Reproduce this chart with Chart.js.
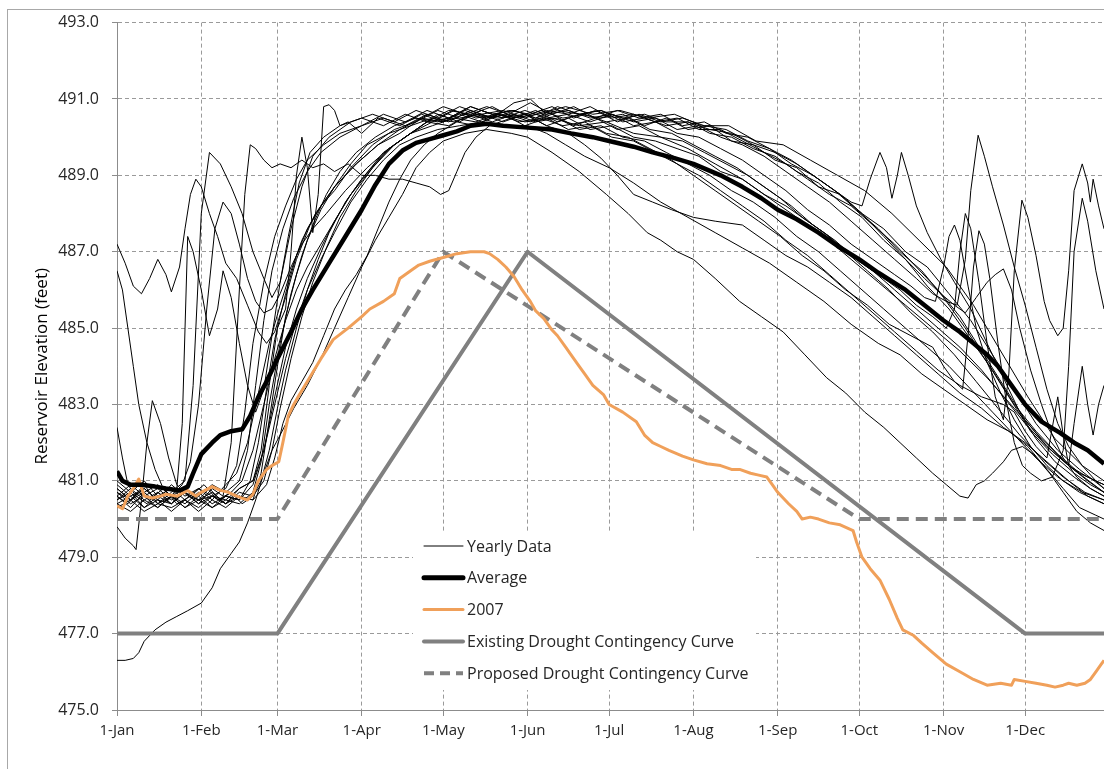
<!DOCTYPE html>
<html>
<head>
<meta charset="utf-8">
<script src="https://cdn.jsdelivr.net/npm/chart.js@4.4.1/dist/chart.umd.min.js"></script>
<style>
  html, body { margin: 0; padding: 0; background: #fff; overflow: hidden; }
  #wrap { position: relative; width: 1104px; height: 769px; }
  #frame { position: absolute; left: 7px; top: 9px; width: 1120px; height: 800px;
           border-top: 1px solid #a8a8a8; border-left: 1px solid #a8a8a8; pointer-events: none; }
</style>
</head>
<body>
<div id="wrap">
  <canvas id="grafico" width="1104" height="769"></canvas>
  <div id="frame"></div>
</div>
<script>
// eixo x: dia do ano (1-Jan = 0)
const monthDays = [0, 31, 59, 90, 120, 151, 181, 212, 243, 273, 304, 334];
const monthLabels = ['1-Jan','1-Feb','1-Mar','1-Apr','1-May','1-Jun','1-Jul','1-Aug','1-Sep','1-Oct','1-Nov','1-Dec'];

// curvas de contingencia
const existingDays = [0, 59, 151, 334, 363];
const existingVals = [477, 477, 487, 477, 477];
const proposedDays = [0, 59, 120, 273, 363];
const proposedVals = [480, 480, 487, 480, 480];

// media de todos os anos
const averageData = [[0,481.25],[2,481.0],[5,480.9],[9,480.9],[14,480.85],[18,480.8],[23,480.75],[26,480.85],[28,481.2],[31,481.7],[35,482.0],[38,482.2],[42,482.3],[46,482.35],[49,482.7],[52,483.2],[55,483.6],[59,484.2],[64,484.9],[68,485.5],[72,486.0],[78,486.7],[84,487.4],[90,488.1],[95,488.75],[100,489.3],[105,489.65],[110,489.85],[115,489.95],[120,490.05],[125,490.15],[130,490.3],[136,490.35],[142,490.3],[151,490.25],[160,490.2],[167,490.1],[175,490.0],[181,489.9],[190,489.75],[197,489.6],[205,489.45],[212,489.3],[222,489.0],[230,488.7],[237,488.4],[243,488.1],[250,487.85],[258,487.5],[265,487.15],[273,486.8],[280,486.45],[290,486.0],[297,485.6],[304,485.2],[310,484.9],[315,484.6],[320,484.3],[324,484.0],[328,483.6],[334,483.0],[340,482.55],[347,482.25],[352,482.0],[357,481.8],[363,481.45]];

// ano de 2007
const data2007 = [[0,480.35],[2,480.27],[4,480.6],[6,480.8],[8,481.05],[10,480.6],[13,480.55],[16,480.6],[18,480.65],[22,480.6],[26,480.75],[29,480.6],[31,480.7],[35,480.85],[38,480.75],[41,480.7],[44,480.6],[46,480.55],[48,480.5],[50,480.65],[52,481.0],[55,481.3],[57,481.4],[59.5,481.5],[61,482.0],[63,482.7],[65,483.0],[67,483.25],[70,483.6],[75,484.2],[79.5,484.7],[85,485.0],[90,485.3],[93,485.5],[98,485.7],[102,485.9],[104,486.3],[108,486.5],[111,486.65],[115,486.75],[120,486.85],[125,486.95],[130,487.0],[135,487.0],[137,486.95],[140,486.8],[143,486.6],[146,486.35],[149,486.0],[152,485.7],[154,485.45],[157,485.25],[160,484.95],[162,484.8],[165,484.5],[167,484.3],[170,484.0],[172,483.8],[175,483.5],[179,483.25],[181,483.0],[186,482.8],[191,482.55],[194,482.2],[197,482.0],[200,481.9],[203,481.8],[208,481.65],[212,481.55],[217,481.45],[222,481.4],[226,481.3],[229,481.3],[233,481.2],[236,481.15],[239,481.1],[241,480.9],[243,480.7],[247,480.4],[250,480.2],[252,480.0],[255,480.05],[258,480.0],[262,479.9],[266,479.85],[270.7,479.7],[272,479.4],[274,479.0],[277,478.7],[280.6,478.4],[284,477.9],[287,477.4],[289,477.1],[293,476.95],[296,476.75],[300,476.5],[305,476.2],[310,476.0],[315,475.8],[320,475.65],[325,475.7],[329,475.65],[330,475.8],[334,475.75],[338,475.7],[342,475.65],[345,475.6],[348,475.65],[350,475.7],[353,475.65],[356,475.7],[358,475.8],[360,476.0],[362,476.2],[363,476.3]];

// dados anuais (uma linha fina por ano)
const yr01 = [[0,480.6],[4,480.4],[8,480.7],[12,480.5],[17,480.8],[22,480.4],[27,480.6],[32,480.9],[37,480.5],[42,480.7],[46,481.0],[50,481.8],[54,483.0],[58,484.2],[62,485.2],[66,486.0],[70,486.6],[75,487.2],[80,487.8],[85,488.4],[90,488.9],[96,489.4],[102,489.8],[108,490.1],[114,490.4],[122,490.5],[130,490.8],[138,490.6],[146,490.7],[154,490.5],[162,490.7],[170,490.6],[178,490.7],[186,490.4],[194,490.5],[202,490.3],[210,490.4],[218,490.1],[226,490.0],[234,489.7],[242,489.5],[250,489.1],[258,488.8],[266,488.3],[274,487.9],[282,487.3],[290,486.8],[298,486.1],[306,485.5],[314,484.7],[322,483.9],[330,483.0],[338,482.3],[346,481.7],[354,481.2],[363,480.9]];
const yr02 = [[0,480.8],[5,480.5],[10,480.9],[15,480.4],[20,480.7],[25,481.0],[28,483.5],[31,488.0],[34,489.6],[38,489.3],[42,488.7],[46,488.0],[50,487.0],[54,486.3],[57,485.8],[60,486.2],[63,487.4],[67,488.8],[71,489.6],[76,490.0],[82,490.3],[90,490.5],[98,490.3],[106,490.6],[114,490.4],[122,490.7],[130,490.6],[138,490.8],[146,490.5],[154,490.7],[162,490.4],[170,490.6],[178,490.5],[186,490.6],[194,490.3],[202,490.5],[210,490.2],[218,490.3],[226,489.9],[234,489.8],[242,489.4],[250,489.2],[258,488.7],[266,488.5],[274,488.0],[282,487.6],[290,487.0],[298,486.6],[306,485.9],[314,485.2],[322,484.3],[330,483.4],[338,482.5],[346,481.8],[354,481.3],[363,480.8]];
const yr03 = [[0,487.2],[3,486.7],[6,486.1],[9,485.9],[12,486.3],[15,486.8],[18,486.4],[20,485.95],[23,486.6],[25,487.6],[27,488.5],[29,488.9],[31,488.7],[34,488.0],[37,487.4],[40,486.7],[44,486.3],[48,485.6],[52,484.9],[55,484.6],[58,484.9],[62,485.8],[66,486.8],[71,487.7],[75,488.2],[80,488.6],[86,489.2],[94,489.8],[102,490.2],[110,490.4],[118,490.7],[126,490.5],[134,490.6],[142,490.4],[150,490.6],[158,490.3],[166,490.5],[174,490.2],[182,490.3],[190,490.0],[198,489.9],[206,489.7],[214,489.5],[222,489.1],[230,488.9],[238,488.5],[246,488.2],[254,487.8],[262,487.4],[270,486.9],[278,486.5],[286,486.0],[294,485.5],[302,485.0],[310,484.5],[318,483.9],[326,483.2],[334,482.5],[342,481.9],[350,481.4],[357,481.1],[363,480.9]];
const yr04 = [[0,486.5],[2,486.0],[4,485.0],[6,484.0],[8,483.0],[11,482.0],[14,481.3],[17,480.8],[20,480.6],[24,480.9],[27,481.5],[30,483.0],[33,485.5],[36,487.6],[39,488.3],[42,488.0],[45,487.2],[48,486.3],[51,485.7],[54,485.4],[57,485.5],[60,485.9],[64,486.6],[68,487.2],[72,487.6],[77,488.0],[84,488.6],[92,489.2],[100,489.7],[108,490.1],[116,490.4],[124,490.7],[132,490.5],[140,490.6],[150,490.4],[160,490.5],[170,490.3],[180,490.4],[190,490.1],[200,490.0],[210,489.7],[220,489.3],[230,488.9],[240,488.4],[250,487.9],[260,487.4],[270,486.8],[280,486.2],[290,485.6],[300,485.0],[310,484.4],[320,483.7],[330,482.9],[340,482.1],[350,481.4],[363,480.7]];
const yr05 = [[0,480.5],[5,480.7],[10,480.3],[15,480.6],[20,480.4],[25,480.7],[30,480.4],[35,480.8],[39,480.6],[42,482.0],[45,486.0],[47,488.5],[49,489.8],[51,489.7],[54,489.4],[57,489.2],[60,489.3],[64,489.2],[68,489.4],[72,489.2],[76,489.3],[80,489.1],[85,489.3],[90,489.0],[95,489.0],[100,488.9],[105,488.9],[110,488.8],[115,488.7],[119,488.5],[122,488.6],[125,489.1],[128,489.6],[132,490.0],[137,490.3],[145,490.5],[155,490.6],[165,490.8],[175,490.6],[185,490.7],[195,490.5],[205,490.6],[215,490.3],[225,490.3],[235,489.9],[245,489.8],[255,489.4],[265,489.0],[275,488.6],[285,488.0],[295,487.3],[305,486.6],[315,485.6],[325,484.4],[335,483.2],[345,482.1],[355,481.4],[363,481.0]];
const yr06 = [[0,476.3],[3,476.3],[6,476.35],[8,476.5],[10,476.8],[14,477.1],[18,477.3],[22,477.45],[26,477.6],[31,477.8],[35,478.2],[38,478.7],[42,479.1],[45,479.4],[48,479.9],[51,480.5],[54,481.2],[57,481.8],[60,482.2],[65,482.9],[70,483.5],[75,484.2],[80,485.0],[85,485.8],[90,486.6],[95,487.3],[100,487.9],[105,488.5],[110,489.2],[115,489.6],[120,489.9],[128,490.1],[136,490.2],[145,490.1],[151,490.0],[160,489.6],[170,489.1],[180,488.5],[188,488.0],[195,487.5],[200,487.3],[206,487.0],[212,486.8],[220,486.3],[229,485.7],[237,485.3],[245,484.9],[253,484.3],[261,483.7],[268,483.3],[275,482.8],[282,482.4],[288,482.0],[294,481.6],[300,481.2],[305,480.9],[310,480.6],[313,480.55],[316,480.9],[319,481.0],[322,481.2],[326,481.5],[329,481.8],[333,481.9],[337,481.7],[343,481.2],[348,480.7],[353,480.2],[358,479.9],[363,479.7]];
const yr07 = [[0,480.4],[5,480.2],[10,480.5],[15,480.3],[20,480.6],[25,480.3],[30,480.5],[35,480.3],[40,480.6],[45,480.5],[50,480.9],[54,481.8],[58,483.0],[62,484.2],[66,485.2],[70,486.0],[75,486.8],[80,487.5],[86,488.3],[92,488.9],[98,489.4],[104,489.8],[110,490.0],[118,490.2],[126,490.3],[134,490.4],[142,490.3],[151,490.3],[158,490.1],[165,489.8],[172,489.5],[181,489.2],[190,488.8],[200,488.3],[210,487.9],[220,487.5],[230,487.1],[240,486.7],[250,486.2],[260,485.7],[270,485.1],[280,484.6],[288,484.3],[296,483.8],[304,483.4],[312,483.0],[320,482.6],[328,482.3],[335,481.9],[342,481.3],[348,480.8],[354,480.3],[360,480.1],[363,480.0]];
const yr08 = [[0,480.7],[5,480.5],[10,480.8],[15,480.5],[20,480.4],[25,480.7],[30,480.5],[35,480.7],[40,480.4],[45,480.6],[50,480.5],[53,481.2],[56,482.6],[59,484.0],[62,485.3],[66,486.4],[70,487.3],[75,488.1],[80,488.7],[86,489.3],[92,489.8],[100,490.1],[108,490.3],[116,490.5],[124,490.4],[132,490.6],[140,490.5],[150,490.6],[158,490.3],[166,490.1],[172,489.8],[178,489.45],[184,489.0],[190,488.5],[197,488.3],[204,488.1],[212,487.9],[220,487.8],[230,487.7],[238,487.3],[246,486.9],[254,486.6],[262,486.2],[270,485.8],[278,485.3],[286,484.8],[294,484.3],[302,483.8],[310,483.3],[318,482.9],[326,482.4],[334,482.0],[342,481.5],[350,481.0],[357,480.6],[363,480.4]];
const yr09 = [[0,480.3],[5,480.5],[10,480.2],[15,480.4],[20,480.3],[25,480.5],[30,480.2],[35,480.5],[40,480.3],[45,480.6],[50,480.5],[55,480.9],[58,481.6],[61,482.5],[64,483.1],[68,483.6],[72,484.1],[76,484.8],[80,485.5],[84,486.0],[88,486.4],[92,486.9],[96,487.6],[100,488.3],[104,488.9],[108,489.4],[113,489.8],[118,490.1],[125,490.4],[132,490.3],[140,490.6],[148,490.5],[156,490.7],[164,490.5],[172,490.6],[180,490.4],[188,490.5],[196,490.2],[204,490.1],[212,489.8],[220,489.5],[228,489.2],[236,488.8],[244,488.4],[252,487.9],[260,487.5],[268,487.0],[276,486.5],[284,486.0],[292,485.4],[300,484.9],[308,484.3],[316,483.6],[324,482.9],[332,482.2],[340,481.6],[348,481.1],[356,480.7],[363,480.5]];
const yr10 = [[0,480.9],[5,480.6],[10,480.8],[15,480.5],[20,480.9],[25,480.6],[30,480.8],[35,480.5],[40,480.9],[44,481.2],[48,482.0],[52,483.3],[56,484.6],[60,485.6],[64,486.5],[68,487.3],[73,488.0],[80,488.7],[88,489.3],[96,489.8],[104,490.2],[112,490.5],[120,490.8],[128,490.6],[136,490.8],[144,490.6],[152,490.9],[160,490.6],[168,490.8],[176,490.5],[184,490.7],[192,490.5],[200,490.6],[208,490.3],[216,490.4],[224,490.1],[232,490.0],[240,489.7],[248,489.4],[256,489.0],[264,488.6],[270,488.3],[274,488.2],[277,488.9],[280.6,489.6],[283,489.2],[285,488.4],[287,489.0],[288.5,489.6],[291,489.0],[294,488.2],[298,487.5],[303,486.8],[308,486.2],[314,485.5],[320,484.6],[326,483.7],[332,482.8],[338,482.1],[345,481.5],[352,481.1],[358,480.8],[363,480.6]];
const yr11 = [[0,480.5],[5,480.8],[10,480.5],[15,480.7],[20,480.4],[25,480.8],[30,480.5],[35,480.6],[40,480.4],[45,480.8],[50,481.0],[54,481.8],[58,483.2],[62,484.5],[66,485.5],[70,486.3],[75,487.1],[80,487.8],[86,488.5],[94,489.2],[102,489.8],[110,490.2],[118,490.6],[126,490.4],[134,490.7],[142,490.5],[150,490.7],[158,490.5],[166,490.6],[174,490.4],[182,490.6],[190,490.4],[198,490.5],[206,490.2],[214,490.3],[222,490.0],[230,489.8],[238,489.5],[246,489.1],[254,488.7],[262,488.3],[270,487.8],[278,487.3],[286,486.8],[294,486.3],[300,485.9],[305,485.7],[309,485.6],[312,486.8],[314,488.6],[316.7,490.05],[319,489.5],[322,488.7],[326,487.7],[330,486.6],[334,485.6],[338,484.5],[342,483.4],[346,482.5],[350,481.9],[355,481.4],[360,481.0],[363,480.8]];
const yr12 = [[0,480.7],[5,480.4],[10,480.6],[15,480.3],[20,480.6],[25,480.4],[30,480.7],[35,480.4],[40,480.6],[45,480.5],[49,481.0],[52,482.0],[55,483.4],[58,484.7],[62,485.9],[66,486.9],[70,487.6],[75,488.2],[80,488.7],[88,489.3],[96,489.8],[104,490.1],[112,490.5],[120,490.4],[128,490.7],[136,490.5],[144,490.6],[152,490.4],[160,490.6],[168,490.3],[176,490.5],[184,490.2],[192,490.3],[200,490.0],[208,489.9],[216,489.6],[224,489.3],[232,489.0],[240,488.6],[248,488.2],[256,487.7],[264,487.3],[272,486.8],[280,486.4],[288,486.0],[294,485.6],[300,485.3],[305,485.0],[308,485.5],[310,487.0],[312,488.0],[314,487.6],[317,486.2],[320,484.6],[323,483.2],[326,482.6],[328,483.8],[330,486.5],[332.8,488.35],[335,487.9],[338,486.9],[341,485.7],[343,485.2],[346,484.8],[348,485.0],[350,486.5],[352,488.6],[355,489.3],[357,488.8],[358,488.3],[359,488.9],[361,488.2],[363,487.6]];
const yr13 = [[0,480.4],[5,480.6],[10,480.3],[15,480.5],[20,480.2],[25,480.5],[30,480.3],[35,480.6],[40,480.4],[45,480.7],[50,480.6],[54,481.0],[57,481.8],[60,482.9],[64,484.2],[68,485.3],[72,486.2],[77,487.1],[82,487.9],[88,488.6],[94,489.2],[100,489.7],[108,490.1],[116,490.3],[124,490.5],[132,490.4],[140,490.6],[148,490.4],[156,490.5],[164,490.3],[172,490.4],[180,490.1],[188,490.0],[196,489.7],[204,489.4],[212,489.0],[220,488.6],[228,488.2],[236,487.8],[244,487.4],[252,486.9],[260,486.5],[268,486.0],[276,485.6],[284,485.1],[292,484.8],[300,484.5],[304,484.0],[308,483.6],[311,483.4],[313,484.8],[315,486.6],[317,487.55],[319,487.2],[321,486.3],[324,484.6],[327,483.1],[330,482.0],[333,481.4],[336,481.2],[340,481.0],[344,481.1],[348,481.8],[350,484.0],[352,487.0],[355,488.4],[357,487.8],[360,486.5],[363,485.5]];
const yr14 = [[0,481.0],[5,480.7],[10,481.0],[15,480.6],[20,480.8],[25,480.5],[30,480.8],[35,480.6],[40,480.8],[44,481.4],[47,482.8],[50,484.6],[54,486.2],[58,487.4],[62,488.2],[66,488.9],[70,489.4],[76,489.8],[82,490.1],[90,490.3],[98,490.6],[106,490.4],[114,490.7],[122,490.5],[130,490.8],[138,490.6],[146,490.7],[154,490.5],[162,490.8],[170,490.6],[178,490.7],[186,490.5],[194,490.6],[202,490.4],[210,490.4],[218,490.2],[226,490.1],[234,489.8],[242,489.6],[250,489.3],[258,488.9],[266,488.5],[274,488.0],[282,487.4],[290,486.8],[297,486.3],[303,485.9],[308,485.6],[312,485.4],[316,485.8],[320,486.2],[323,486.4],[326,486.55],[329,486.0],[332,485.0],[336,483.9],[340,483.0],[344,482.2],[348,481.6],[353,481.1],[358,480.8],[363,480.6]];
const yr15 = [[0,480.6],[5,480.3],[10,480.7],[15,480.4],[20,480.6],[25,480.3],[30,480.6],[35,480.3],[40,480.5],[45,480.4],[50,480.7],[53,481.5],[56,483.0],[60,484.6],[64,485.9],[68,486.9],[72,487.7],[77,488.5],[82,489.1],[88,489.6],[95,490.0],[102,490.3],[110,490.5],[118,490.4],[126,490.6],[134,490.4],[142,490.6],[150,490.3],[158,490.5],[166,490.2],[174,490.3],[182,490.0],[190,489.9],[198,489.6],[206,489.3],[214,489.0],[222,488.6],[230,488.2],[238,487.8],[246,487.3],[254,486.9],[262,486.4],[270,485.9],[278,485.4],[286,484.9],[294,484.4],[302,483.9],[310,483.5],[318,483.2],[326,483.0],[330,482.8],[334,482.3],[338,481.9],[342,481.6],[344,482.4],[346,483.2],[348,482.2],[350,481.4],[352,482.5],[355,484.0],[357,483.0],[359,482.2],[361,483.0],[363,483.5]];
const yr16 = [[0,479.8],[3,479.5],[6,479.3],[7,479.2],[9,480.5],[11,482.0],[13,483.1],[16,482.5],[19,481.6],[22,480.9],[26,480.6],[30,480.5],[34,480.8],[38,480.5],[42,480.7],[46,480.4],[50,480.6],[53,481.0],[56,481.8],[59,482.9],[62,483.9],[66,485.0],[70,486.0],[74,486.8],[78,487.5],[84,488.3],[90,488.9],[98,489.6],[106,490.0],[114,490.4],[122,490.3],[130,490.6],[138,490.4],[146,490.6],[154,490.4],[162,490.5],[170,490.2],[178,490.3],[186,490.0],[194,489.9],[202,489.6],[210,489.3],[218,489.0],[226,488.6],[234,488.3],[242,487.9],[250,487.4],[258,487.0],[266,486.5],[274,486.0],[282,485.5],[290,485.0],[298,484.5],[306,484.0],[314,483.4],[322,482.8],[330,482.2],[338,481.6],[346,481.1],[354,480.7],[363,480.4]];
const yr17 = [[0,482.4],[2,481.6],[4,480.9],[7,480.6],[11,480.4],[15,480.7],[19,480.5],[22,480.8],[24,482.5],[26,487.4],[28,487.0],[31,486.0],[34,484.8],[37,485.5],[39,486.5],[42,485.8],[45,484.6],[48,483.5],[51,482.8],[54,483.4],[57,484.8],[60,486.2],[64,487.6],[68,488.7],[72,489.5],[78,490.0],[86,490.4],[94,490.6],[102,490.4],[110,490.7],[118,490.5],[126,490.8],[134,490.6],[142,490.7],[150,490.5],[158,490.7],[166,490.6],[174,490.8],[182,490.5],[190,490.6],[198,490.4],[206,490.5],[214,490.2],[222,490.2],[230,489.9],[238,489.6],[246,489.3],[254,488.9],[262,488.5],[270,488.2],[278,487.7],[286,487.2],[294,486.6],[302,486.0],[310,485.3],[318,484.4],[326,483.5],[334,482.6],[342,481.9],[350,481.4],[357,481.0],[363,480.7]];
const yr18 = [[0,480.6],[5,480.9],[10,480.6],[15,480.8],[20,480.5],[25,480.7],[30,480.4],[35,480.6],[40,480.5],[45,480.8],[50,481.0],[53,481.8],[56,483.5],[59,485.0],[62,485.5],[64,487.0],[66,489.0],[68,490.0],[70,489.2],[72,487.5],[74,488.5],[76,490.8],[78,490.85],[80,490.7],[82,490.3],[85,490.4],[90,490.1],[96,490.5],[104,490.3],[112,490.6],[120,490.4],[128,490.6],[136,490.5],[144,490.7],[152,490.6],[160,490.8],[168,490.5],[176,490.7],[184,490.4],[192,490.6],[200,490.4],[208,490.5],[216,490.3],[224,490.2],[232,489.9],[240,489.7],[248,489.3],[256,489.0],[264,488.6],[272,488.1],[280,487.6],[288,487.0],[296,486.5],[304,485.8],[312,485.0],[320,484.1],[328,483.2],[336,482.3],[344,481.7],[352,481.2],[358,480.9],[363,480.7]];
const yr19 = [[0,480.8],[5,480.5],[10,480.7],[15,480.9],[20,480.6],[25,480.8],[30,480.6],[35,480.9],[40,480.7],[45,481.0],[48,481.8],[51,483.5],[54,485.2],[57,486.5],[61,487.6],[65,488.4],[70,489.1],[75,489.6],[82,490.0],[90,490.3],[98,490.5],[106,490.3],[114,490.6],[122,490.4],[130,490.7],[138,490.5],[146,490.9],[152,491.0],[158,490.6],[166,490.7],[174,490.5],[182,490.6],[190,490.3],[198,490.4],[206,490.1],[214,490.0],[222,489.7],[230,489.4],[238,489.0],[246,488.6],[254,488.1],[262,487.7],[270,487.2],[278,486.8],[286,486.4],[292,486.1],[297,485.8],[301,485.7],[304,486.6],[306,487.4],[308,487.7],[310,487.3],[313,486.1],[316,485.0],[320,484.1],[325,483.3],[330,482.6],[336,481.9],[342,481.4],[348,481.0],[355,480.7],[363,480.5]];

const yearlyData = [yr01, yr02, yr03, yr04, yr05, yr06, yr07, yr08, yr09, yr10, yr11, yr12, yr13, yr14, yr15, yr16, yr17, yr18, yr19];

const FONTE = "'Open Sans', 'Liberation Sans', sans-serif";
const CINZA = '#808080';
const LARANJA = '#f0a05a';

function pares(lista) {
    return lista.map(p => ({ x: p[0], y: p[1] }));
}
function combinar(xs, ys) {
    return xs.map((x, i) => ({ x: x, y: ys[i] }));
}

let conjuntos = [
    { label: 'Average', data: pares(averageData), borderColor: '#000', borderWidth: 4.5 },
    { label: '2007', data: pares(data2007), borderColor: LARANJA, borderWidth: 3 },
    { label: 'Existing Drought Contingency Curve', data: combinar(existingDays, existingVals), borderColor: CINZA, borderWidth: 4 },
    { label: 'Proposed Drought Contingency Curve', data: combinar(proposedDays, proposedVals), borderColor: CINZA, borderWidth: 4, borderDash: [12, 7] }
];
yearlyData.forEach((ano, i) => {
    conjuntos.push({ label: 'Yearly Data ' + (i + 1), data: pares(ano), borderColor: '#000', borderWidth: 1 });
});

// legenda dentro da area do grafico, com fundo branco
const legendaItens = [
    { texto: 'Yearly Data', cor: '#000', largura: 1, tracejado: [] },
    { texto: 'Average', cor: '#000', largura: 5, tracejado: [] },
    { texto: '2007', cor: LARANJA, largura: 3, tracejado: [] },
    { texto: 'Existing Drought Contingency Curve', cor: CINZA, largura: 4, tracejado: [] },
    { texto: 'Proposed Drought Contingency Curve', cor: CINZA, largura: 4, tracejado: [10, 6] }
];

const pluginLegenda = {
    id: 'legendaInterna',
    afterDatasetsDraw(chart) {
        const ctx = chart.ctx;
        // caixa branca da legenda (pixels)
        const x0 = 413, y0 = 532, x1 = 756, y1 = 690;
        ctx.save();
        ctx.fillStyle = '#fff';
        ctx.fillRect(x0, y0, x1 - x0, y1 - y0);
        ctx.font = '16px ' + FONTE;
        ctx.textBaseline = 'middle';
        legendaItens.forEach((item, i) => {
            const y = 546 + i * 31.8;
            ctx.beginPath();
            ctx.setLineDash(item.tracejado);
            ctx.strokeStyle = item.cor;
            ctx.lineWidth = item.largura;
            ctx.lineCap = item.tracejado.length ? 'butt' : 'round';
            ctx.moveTo(424, y);
            ctx.lineTo(463, y);
            ctx.stroke();
            ctx.setLineDash([]);
            ctx.fillStyle = '#262626';
            ctx.fillText(item.texto, 467, y + 1);
        });
        ctx.restore();
    }
};

const ctx = document.getElementById('grafico').getContext('2d');
new Chart(ctx, {
    type: 'line',
    data: { datasets: conjuntos },
    plugins: [pluginLegenda],
    options: {
        responsive: false,
        animation: false,
        parsing: false,
        normalized: true,
        layout: { padding: { top: 19, right: 0, left: 0, bottom: 0 } },
        elements: {
            point: { radius: 0 },
            line: { tension: 0, borderJoinStyle: 'round', fill: false }
        },
        plugins: { legend: { display: false }, tooltip: { enabled: false } },
        scales: {
            x: {
                type: 'linear',
                min: 0,
                max: 363,
                afterBuildTicks: (scale) => { scale.ticks = monthDays.map(v => ({ value: v })); },
                afterFit: (scale) => { scale.height = 59; },
                ticks: {
                    autoSkip: false,
                    maxRotation: 0,
                    padding: 6,
                    color: '#262626',
                    font: { family: FONTE, size: 15 },
                    callback: (v) => monthLabels[monthDays.indexOf(v)]
                },
                grid: { color: '#9a9a9a', lineWidth: 1, tickLength: 6, tickColor: '#8c8c8c', tickBorderDash: [] },
                border: { color: '#8c8c8c', width: 1, dash: [4, 3] }
            },
            y: {
                min: 475,
                max: 493,
                afterFit: (scale) => { scale.width = 117; },
                ticks: {
                    stepSize: 2,
                    padding: 13,
                    color: '#262626',
                    font: { family: FONTE, size: 16 },
                    callback: (v) => v.toFixed(1)
                },
                title: {
                    display: true,
                    text: 'Reservoir Elevation (feet)',
                    color: '#000',
                    font: { family: FONTE, size: 17 },
                    padding: { top: 32, bottom: 0 }
                },
                grid: { color: '#9a9a9a', lineWidth: 1, tickLength: 5, tickColor: '#8c8c8c', tickBorderDash: [] },
                border: { color: '#8c8c8c', width: 1, dash: [4, 3] }
            }
        }
    }
});
</script>
</body>
</html>
